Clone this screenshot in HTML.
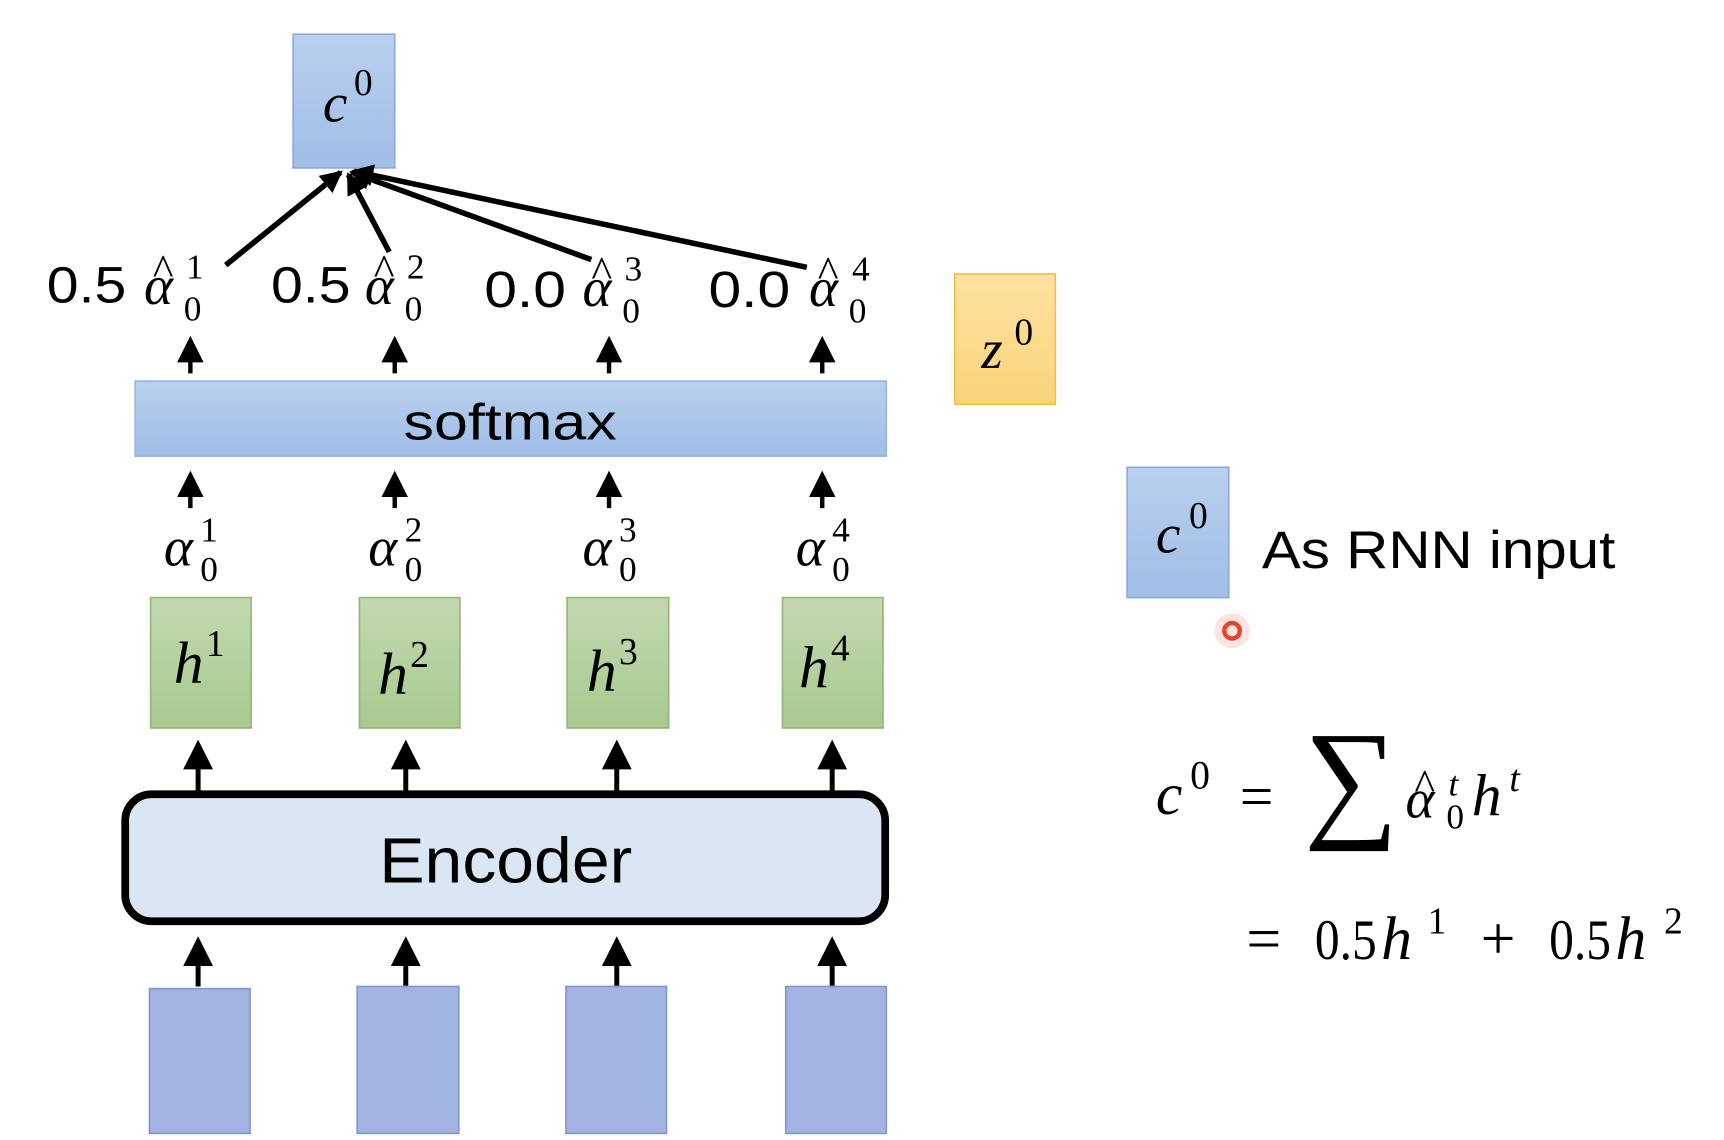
<!DOCTYPE html>
<html><head><meta charset="utf-8"><style>
html,body{margin:0;padding:0;background:#fff;width:1724px;height:1140px;overflow:hidden}
svg{display:block}
.m{font-family:"Liberation Serif",serif;font-style:italic}
.n{font-family:"Liberation Serif",serif}
.s{font-family:"Liberation Sans",sans-serif}
</style></head><body>
<svg width="1724" height="1140" viewBox="0 0 1560 1032" xmlns="http://www.w3.org/2000/svg">
<defs>
<linearGradient id="gb" x1="0" y1="0" x2="0" y2="1"><stop offset="0" stop-color="#b9d0ee"/><stop offset="1" stop-color="#9fbde6"/></linearGradient>
<linearGradient id="gg" x1="0" y1="0" x2="0" y2="1"><stop offset="0" stop-color="#c3d9b0"/><stop offset="1" stop-color="#a7c98f"/></linearGradient>
<linearGradient id="gy" x1="0" y1="0" x2="0" y2="1"><stop offset="0" stop-color="#fde2a0"/><stop offset="1" stop-color="#f9d37a"/></linearGradient>
<marker id="ah" markerWidth="6" markerHeight="6" refX="5" refY="3" orient="auto" markerUnits="strokeWidth"><path d="M0,0 L6,3 L0,6 z" fill="#000"/></marker>
<marker id="ah2" markerWidth="4" markerHeight="4" refX="3.5" refY="2" orient="auto" markerUnits="strokeWidth"><path d="M0,0 L4,2 L0,4 z" fill="#000"/></marker>
</defs>

<rect x="265" y="31" width="92" height="121" fill="url(#gb)" stroke="#8eaadb" stroke-width="1.5"/>
<text x="292" y="110" class="m" font-size="50">c</text><text x="320" y="86" class="n" font-size="34">0</text>

<g stroke="#000" stroke-width="5" fill="none">
<line x1="204" y1="240" x2="308" y2="156" marker-end="url(#ah2)"/>
<line x1="352" y1="228" x2="315" y2="158" marker-end="url(#ah2)"/>
<line x1="535" y1="235" x2="318" y2="156" marker-end="url(#ah2)"/>
<line x1="730" y1="242" x2="320" y2="155" marker-end="url(#ah2)"/>
</g>

<g font-size="46">
<text x="42" y="274" class="s" textLength="72" lengthAdjust="spacingAndGlyphs">0.5</text>
<text x="245" y="274" class="s" textLength="72" lengthAdjust="spacingAndGlyphs">0.5</text>
<text x="438" y="278" class="s" textLength="74" lengthAdjust="spacingAndGlyphs">0.0</text>
<text x="641" y="278" class="s" textLength="74" lengthAdjust="spacingAndGlyphs">0.0</text>
</g>
<g>
<text x="130" y="275" class="m" font-size="50">α</text><text x="138" y="258" class="n" font-size="40">^</text><text x="168" y="252" class="n" font-size="32">1</text><text x="166" y="290" class="n" font-size="32">0</text>
<text x="330" y="275" class="m" font-size="50">α</text><text x="338" y="258" class="n" font-size="40">^</text><text x="368" y="252" class="n" font-size="32">2</text><text x="366" y="290" class="n" font-size="32">0</text>
<text x="527" y="277" class="m" font-size="50">α</text><text x="535" y="260" class="n" font-size="40">^</text><text x="565" y="254" class="n" font-size="32">3</text><text x="563" y="292" class="n" font-size="32">0</text>
<text x="732" y="277" class="m" font-size="50">α</text><text x="740" y="260" class="n" font-size="40">^</text><text x="771" y="254" class="n" font-size="32">4</text><text x="768" y="292" class="n" font-size="32">0</text>
</g>

<g stroke="#000" stroke-width="4" marker-end="url(#ah)">
<line x1="172" y1="338" x2="172" y2="308"/><line x1="357" y1="338" x2="357" y2="308"/><line x1="551" y1="338" x2="551" y2="308"/><line x1="744" y1="338" x2="744" y2="308"/>
<line x1="172" y1="460" x2="172" y2="430"/><line x1="357" y1="460" x2="357" y2="430"/><line x1="551" y1="460" x2="551" y2="430"/><line x1="744" y1="460" x2="744" y2="430"/>
</g>

<rect x="122" y="345" width="680" height="68" fill="url(#gb)" stroke="#9ab5df" stroke-width="1.5"/>
<text x="365" y="398" class="s" font-size="46" textLength="193" lengthAdjust="spacingAndGlyphs">softmax</text>

<g>
<text x="148" y="512" class="m" font-size="50">α</text><text x="181" y="490" class="n" font-size="32">1</text><text x="181" y="526" class="n" font-size="32">0</text>
<text x="333" y="512" class="m" font-size="50">α</text><text x="366" y="490" class="n" font-size="32">2</text><text x="366" y="526" class="n" font-size="32">0</text>
<text x="527" y="512" class="m" font-size="50">α</text><text x="560" y="490" class="n" font-size="32">3</text><text x="560" y="526" class="n" font-size="32">0</text>
<text x="720" y="512" class="m" font-size="50">α</text><text x="753" y="490" class="n" font-size="32">4</text><text x="753" y="526" class="n" font-size="32">0</text>
</g>

<g stroke="#93b67a" stroke-width="1.5" fill="url(#gg)">
<rect x="136" y="541" width="91" height="118"/><rect x="325" y="541" width="91" height="118"/><rect x="513" y="541" width="92" height="118"/><rect x="708" y="541" width="91" height="118"/>
</g>
<g>
<text x="157" y="618" class="m" font-size="54">h</text><text x="186" y="594" class="n" font-size="34">1</text>
<text x="342" y="628" class="m" font-size="54">h</text><text x="371" y="604" class="n" font-size="34">2</text>
<text x="531" y="625" class="m" font-size="54">h</text><text x="560" y="601" class="n" font-size="34">3</text>
<text x="723" y="622" class="m" font-size="54">h</text><text x="752" y="598" class="n" font-size="34">4</text>
</g>

<g stroke="#000" stroke-width="4.5" marker-end="url(#ah)">
<line x1="179" y1="716" x2="179" y2="674"/><line x1="367" y1="716" x2="367" y2="674"/><line x1="558" y1="716" x2="558" y2="674"/><line x1="753" y1="716" x2="753" y2="674"/>
<line x1="179" y1="893" x2="179" y2="852"/><line x1="367" y1="893" x2="367" y2="852"/><line x1="558" y1="893" x2="558" y2="852"/><line x1="753" y1="893" x2="753" y2="852"/>
</g>

<rect x="113" y="719" width="688" height="115" rx="24" fill="#dae6f3" stroke="#000" stroke-width="7"/>
<text x="343" y="799" class="s" font-size="58" textLength="229" lengthAdjust="spacingAndGlyphs">Encoder</text>

<g fill="#a3b3e1" stroke="#8296cf" stroke-width="1.5">
<rect x="135" y="895" width="91" height="131"/><rect x="323" y="893" width="92" height="133"/><rect x="512" y="893" width="91" height="133"/><rect x="711" y="893" width="91" height="133"/>
</g>

<rect x="864" y="248" width="91" height="118" fill="url(#gy)" stroke="#f2c04c" stroke-width="1.5"/>
<text x="888" y="333" class="m" font-size="50">z</text><text x="918" y="312" class="n" font-size="34">0</text>

<rect x="1020" y="423" width="92" height="118" fill="url(#gb)" stroke="#8eaadb" stroke-width="1.5"/>
<text x="1046" y="500" class="m" font-size="50">c</text><text x="1076" y="478" class="n" font-size="34">0</text>
<text x="1142" y="514" class="s" font-size="48" textLength="320" lengthAdjust="spacingAndGlyphs">As RNN input</text>
<circle cx="1115" cy="571" r="16" fill="#fde4e0"/>
<circle cx="1115" cy="571" r="7" fill="none" stroke="#e8422c" stroke-width="4"/>

<text x="1046" y="737" class="m" font-size="54">c</text><text x="1077" y="714" class="n" font-size="36">0</text>
<text x="1122" y="739" class="n" font-size="54">=</text>
<text x="1180" y="745" class="n" font-size="120">∑</text>
<text x="1272" y="740" class="m" font-size="50">α</text><text x="1280" y="724" class="n" font-size="40">^</text><text x="1311" y="720" class="m" font-size="32">t</text><text x="1309" y="750" class="n" font-size="32">0</text>
<text x="1332" y="738" class="m" font-size="54">h</text><text x="1366" y="716" class="m" font-size="34">t</text>
<text x="1128" y="868" class="n" font-size="56">=</text>
<text x="1190" y="868" class="n" font-size="52" textLength="56" lengthAdjust="spacingAndGlyphs">0.5</text>
<text x="1250" y="868" class="m" font-size="56">h</text><text x="1292" y="845" class="n" font-size="34">1</text>
<text x="1340" y="868" class="n" font-size="56">+</text>
<text x="1402" y="868" class="n" font-size="52" textLength="56" lengthAdjust="spacingAndGlyphs">0.5</text>
<text x="1462" y="868" class="m" font-size="56">h</text><text x="1506" y="845" class="n" font-size="34">2</text>
</svg>
</body></html>
